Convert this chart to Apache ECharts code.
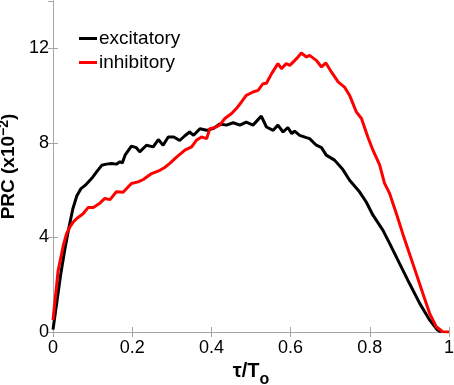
<!DOCTYPE html>
<html>
<head>
<meta charset="utf-8">
<script src="https://cdn.jsdelivr.net/npm/echarts@6/dist/echarts.min.js"></script>
<style>
  html, body { margin: 0; padding: 0; background: #fff; }
  #chart { width: 454px; height: 385px; }
</style>
</head>
<body>
<div id="chart"></div>
<script>
// phase (tau/To) , PRC (x10^-2)
var excitatory = [
    [0, 0.1], [0.01, 1.3], [0.02, 2.5], [0.03, 3.5], [0.04, 4.4], [0.05, 5.2], [0.06, 5.75],
    [0.07, 6.05], [0.081, 6.2], [0.098, 6.5], [0.11, 6.77], [0.123, 7.05], [0.135, 7.1],
    [0.148, 7.13], [0.16, 7.1], [0.169, 7.2], [0.175, 7.15], [0.182, 7.48], [0.198, 7.86],
    [0.21, 7.8], [0.219, 7.62], [0.236, 7.9], [0.253, 7.83], [0.266, 8.14], [0.278, 7.9],
    [0.291, 8.25], [0.305, 8.25], [0.32, 8.1], [0.333, 8.3], [0.345, 8.46], [0.355, 8.32],
    [0.371, 8.6], [0.388, 8.53], [0.404, 8.6], [0.421, 8.8], [0.438, 8.75], [0.455, 8.85],
    [0.472, 8.75], [0.488, 8.88], [0.505, 8.75], [0.526, 9.13], [0.539, 8.67], [0.556, 8.53],
    [0.568, 8.75], [0.581, 8.46], [0.593, 8.65], [0.603, 8.39], [0.61, 8.5], [0.623, 8.32],
    [0.64, 8.22], [0.648, 8.18], [0.665, 7.9], [0.678, 7.8], [0.69, 7.48], [0.711, 7.27],
    [0.732, 6.87], [0.749, 6.42], [0.774, 5.93], [0.791, 5.5], [0.808, 4.94], [0.833, 4.31],
    [0.85, 3.75], [0.875, 2.9], [0.9, 2.06], [0.926, 1.21], [0.951, 0.51], [0.97, 0.1], [0.98, 0]
];
var inhibitory = [
    [0, 0.5], [0.013, 2.6], [0.026, 3.66], [0.034, 4.15], [0.043, 4.45], [0.051, 4.65],
    [0.06, 4.8], [0.076, 5.0], [0.089, 5.27], [0.102, 5.27], [0.119, 5.46], [0.131, 5.65],
    [0.144, 5.6], [0.16, 5.93], [0.177, 5.91], [0.198, 6.28], [0.215, 6.35], [0.228, 6.45],
    [0.249, 6.7], [0.27, 6.84], [0.282, 6.96], [0.295, 7.13], [0.312, 7.4], [0.333, 7.69],
    [0.35, 7.83], [0.362, 8.11], [0.375, 8.25], [0.388, 8.18], [0.396, 8.6], [0.409, 8.65],
    [0.421, 8.75], [0.434, 9.03], [0.451, 9.24], [0.463, 9.45], [0.476, 9.73], [0.488, 10.01],
    [0.505, 10.15], [0.518, 10.22], [0.53, 10.5], [0.539, 10.52], [0.552, 10.93], [0.568, 11.35],
    [0.577, 11.14], [0.589, 11.35], [0.598, 11.28], [0.615, 11.56], [0.627, 11.8], [0.64, 11.63],
    [0.648, 11.7], [0.665, 11.49], [0.678, 11.21], [0.689, 11.38], [0.703, 11.0], [0.72, 10.58],
    [0.736, 10.36], [0.749, 10.01], [0.766, 9.31], [0.779, 9.03], [0.795, 8.25], [0.808, 7.69],
    [0.825, 7.06], [0.837, 6.3], [0.85, 5.86], [0.867, 5.01], [0.883, 4.17], [0.9, 3.32],
    [0.917, 2.48], [0.934, 1.63], [0.951, 0.79], [0.968, 0.22], [0.984, 0.01], [1, 0]
];
var seriesNames = ['excitatory', 'inhibitory'];
var seriesColors = ['#000000', '#ff0000'];

var font = 'Liberation Sans, Arial, sans-serif';
var axisGray = '#a6a6a6';

var chart = echarts.init(document.getElementById('chart'));

function boxAxis(pos) {
    // frame axes: ticks inward, no labels
    return {
        type: 'value', position: pos, min: 0, max: pos == 'top' ? 1 : 14,
        interval: pos == 'top' ? 0.2 : 4,
        axisLine: { show: true, lineStyle: { color: axisGray, width: 1 } },
        axisTick: { show: true, inside: true, length: 5, lineStyle: { color: axisGray } },
        axisLabel: { show: false },
        splitLine: { show: false }
    };
}

var option = {
    animation: false,
    backgroundColor: '#fff',
    textStyle: { fontFamily: font },
    grid: { left: 53, right: 5, top: 1, bottom: 53, containLabel: false, outerBoundsMode: 'none' },
    legend: {
        orient: 'vertical',
        left: 79, top: 29, padding: 0,
        itemWidth: 18, itemHeight: 3, itemGap: 5,
        icon: 'rect',
        data: seriesNames,
        textStyle: { fontFamily: font, fontSize: 19, color: '#000', padding: [0, 0, 0, -3] }
    },
    xAxis: [{
        type: 'value', min: 0, max: 1, interval: 0.2,
        name: '{a|τ/T}{b|o}',
        nameLocation: 'middle', nameGap: 21,
        nameTextStyle: {
            rich: {
                a: { fontFamily: font, fontSize: 20, fontWeight: 'bold', color: '#000', lineHeight: 20, verticalAlign: 'top' },
                b: { fontFamily: font, fontSize: 16, fontWeight: 'bold', color: '#000', lineHeight: 16, padding: [10, 0, 0, 0], verticalAlign: 'top' }
            }
        },
        axisLine: { show: true, lineStyle: { color: axisGray, width: 1 } },
        axisTick: { show: true, inside: true, length: 5, lineStyle: { color: axisGray } },
        axisLabel: { fontFamily: font, fontSize: 18, color: '#000', margin: 7 },
        splitLine: { show: false }
    }, boxAxis('top')],
    yAxis: [{
        type: 'value', min: 0, max: 14, interval: 4,
        name: '{a|PRC (x10}{s|−2}{a|)}',
        nameLocation: 'middle', nameGap: 25, nameRotate: 90,
        nameTextStyle: {
            rich: {
                a: { fontFamily: font, fontSize: 19, fontWeight: 'bold', color: '#000', lineHeight: 22 },
                s: { fontFamily: font, fontSize: 14, fontWeight: 'bold', color: '#000', lineHeight: 14, verticalAlign: 'top' }
            }
        },
        axisLine: { show: true, lineStyle: { color: axisGray, width: 1 } },
        axisTick: { show: true, inside: true, length: 5, lineStyle: { color: axisGray } },
        axisLabel: { fontFamily: font, fontSize: 18, color: '#000', margin: 4, showMaxLabel: false },
        splitLine: { show: false }
    }, boxAxis('right')],
    series: [{
        name: seriesNames[0], type: 'line', data: excitatory,
        showSymbol: false, symbol: 'none',
        lineStyle: { color: seriesColors[0], width: 3 },
        itemStyle: { color: seriesColors[0] }
    }, {
        name: seriesNames[1], type: 'line', data: inhibitory,
        showSymbol: false, symbol: 'none',
        lineStyle: { color: seriesColors[1], width: 3 },
        itemStyle: { color: seriesColors[1] }
    }]
};
chart.setOption(option);
</script>
</body>
</html>
